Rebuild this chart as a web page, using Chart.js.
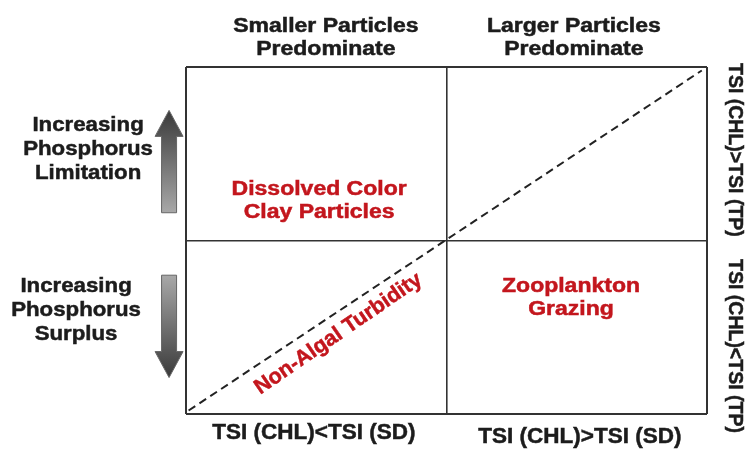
<!DOCTYPE html>
<html>
<head>
<meta charset="utf-8">
<script src="https://cdn.jsdelivr.net/npm/chart.js@4.4.1/dist/chart.umd.min.js"></script>
<style>
  html, body { margin: 0; padding: 0; background: #fff; }
  #wrap { width: 748px; height: 450px; }
</style>
</head>
<body>
<div id="wrap"><canvas id="chart"></canvas></div>
<script>
// quadrant grid, 0..2 on both axes, split at 1
const xTicks = [0, 1, 2];
const yTicks = [0, 1, 2];

// dashed 1:1 line
const diagX = [0.01, 1.98];
const diagY = [0.02, 1.98];

// column headings above the box
const headTexts = [["Smaller Particles", "Predominate"], ["Larger Particles", "Predominate"]];
const headX = [0.537, 1.489];
const headY = [2.168, 2.168];

// phosphorus labels left of the box
const sideTexts = [["Increasing", "Phosphorus", "Limitation"], ["Increasing", "Phosphorus", "Surplus"]];
const sideX = [-0.376, -0.422];
const sideY = [1.524, 0.599];

// red quadrant labels
const zoneTexts = [["Dissolved Color", "Clay Particles"], ["Zooplankton", "Grazing"]];
const zoneX = [0.511, 1.478];
const zoneY = [1.228, 0.666];

const diagText = [["Non-Algal Turbidity"]];
const diagTextX = [0.585];
const diagTextY = [0.462];

// labels under the box
const footTexts = [["TSI (CHL)<TSI (SD)"], ["TSI (CHL)>TSI (SD)"]];
const footX = [0.491, 1.512];
const footY = [-0.110, -0.133];

// rotated labels right of the box
const rightTexts = [["TSI (CHL)>TSI (TP)"], ["TSI (CHL)<TSI (TP)"]];
const rightX = [2.107, 2.107];
const rightY = [1.522, 0.392];

// arrows beside the phosphorus labels
const arrowX = [-0.065, -0.065];
const arrowTail = [1.16, 0.80];
const arrowTip = [1.75, 0.21];

const FONT = '"Liberation Sans", Arial, sans-serif';
const DARK = "#1c1c1c";
const RED = "#c3161d";

function drawLabels(ctx, xs, ys, texts, px, py, st) {
  texts.forEach((lines, i) => {
    const cx = xs.getPixelForValue(px[i]);
    const cy = ys.getPixelForValue(py[i]);
    ctx.save();
    ctx.translate(cx, cy);
    ctx.rotate(st.rot || 0);
    ctx.scale(st.sx || 1, 1);
    ctx.font = "bold " + st.size + "px " + FONT;
    ctx.fillStyle = st.color;
    ctx.strokeStyle = st.color;
    ctx.lineWidth = 0.5;
    ctx.textAlign = "center";
    ctx.textBaseline = "middle";
    const top = -((lines.length - 1) * st.lh) / 2;
    lines.forEach((t, j) => {
      ctx.fillText(t, 0, top + j * st.lh);
      ctx.strokeText(t, 0, top + j * st.lh);
    });
    ctx.restore();
  });
}

function drawArrow(ctx, x, tailY, tipY) {
  const d = tipY > tailY ? 1 : -1;
  const headLen = 26, headHalf = 14, shaftHalf = 7.5;
  const baseY = tipY - d * headLen;
  const g = ctx.createLinearGradient(0, tipY, 0, tailY);
  g.addColorStop(0, "#3a3a3a");
  g.addColorStop(1, "#a8a8a8");
  ctx.save();
  ctx.beginPath();
  ctx.moveTo(x - shaftHalf, tailY);
  ctx.lineTo(x - shaftHalf, baseY);
  ctx.lineTo(x - headHalf, baseY);
  ctx.lineTo(x, tipY);
  ctx.lineTo(x + headHalf, baseY);
  ctx.lineTo(x + shaftHalf, baseY);
  ctx.lineTo(x + shaftHalf, tailY);
  ctx.closePath();
  ctx.fillStyle = g;
  ctx.fill();
  ctx.strokeStyle = "#666";
  ctx.lineWidth = 1;
  ctx.stroke();
  ctx.restore();
}

const annotate = {
  id: "annotate",
  afterDraw(chart) {
    const ctx = chart.ctx;
    const xs = chart.scales.x;
    const ys = chart.scales.y;
    drawLabels(ctx, xs, ys, headTexts, headX, headY, { size: 20, color: DARK, sx: 1.15, lh: 23 });
    drawLabels(ctx, xs, ys, sideTexts, sideX, sideY, { size: 21, color: DARK, sx: 1.06, lh: 24 });
    drawLabels(ctx, xs, ys, zoneTexts, zoneX, zoneY, { size: 20, color: RED, sx: 1.15, lh: 23 });
    drawLabels(ctx, xs, ys, diagText, diagTextX, diagTextY, { size: 21.5, color: RED, lh: 0, rot: -34.5 * Math.PI / 180 });
    drawLabels(ctx, xs, ys, footTexts, footX, footY, { size: 22.5, color: DARK, lh: 0 });
    drawLabels(ctx, xs, ys, rightTexts, rightX, rightY, { size: 19.5, color: DARK, lh: 0, rot: Math.PI / 2 });
    arrowX.forEach((ax, i) => {
      drawArrow(ctx, xs.getPixelForValue(ax), ys.getPixelForValue(arrowTail[i]), ys.getPixelForValue(arrowTip[i]));
    });
  }
};

const gridStyle = {
  display: true,
  drawTicks: false,
  color: "#333",
  lineWidth: (c) => (c.tick && c.tick.value === 1 ? 1.6 : 2)
};

new Chart(document.getElementById("chart"), {
  type: "scatter",
  data: {
    datasets: [{
      data: diagX.map((x, i) => ({ x: x, y: diagY[i] })),
      showLine: true,
      borderColor: "#222",
      borderWidth: 2,
      borderDash: [8, 5],
      pointRadius: 0,
      fill: false
    }]
  },
  options: {
    responsive: true,
    maintainAspectRatio: false,
    animation: false,
    layout: { padding: { left: 186, right: 41, top: 67, bottom: 36 } },
    plugins: { legend: { display: false }, tooltip: { enabled: false } },
    scales: {
      x: {
        type: "linear", min: 0, max: 2,
        afterBuildTicks: (s) => { s.ticks = xTicks.map((v) => ({ value: v })); },
        ticks: { display: false },
        grid: gridStyle,
        border: { display: false }
      },
      y: {
        type: "linear", min: 0, max: 2,
        afterBuildTicks: (s) => { s.ticks = yTicks.map((v) => ({ value: v })); },
        ticks: { display: false },
        grid: gridStyle,
        border: { display: false }
      }
    }
  },
  plugins: [annotate]
});
</script>
</body>
</html>
